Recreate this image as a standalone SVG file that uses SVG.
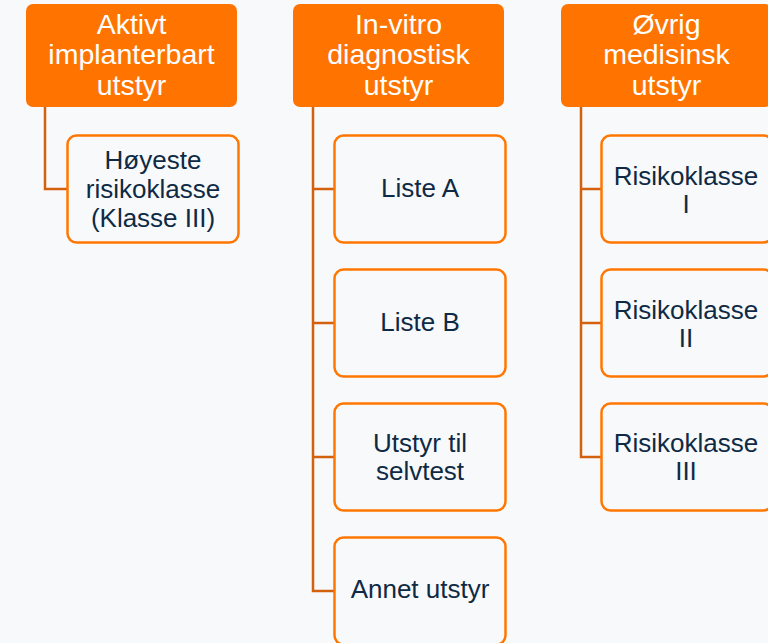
<svg xmlns="http://www.w3.org/2000/svg" width="768" height="643" viewBox="0 0 768 643">
<style>
.hdr{fill:#FF7400}
.ht{fill:#FFFFFF;font-family:"Liberation Sans",Arial,sans-serif;font-size:28.5px;text-anchor:middle}
.box{fill:#F8F9FB;stroke:#FF7700;stroke-width:2.5}
.bt{fill:#0E2A44;font-family:"Liberation Sans",Arial,sans-serif;font-size:26px;text-anchor:middle}
.con{fill:none;stroke:#D2600C;stroke-width:2.5}
</style>
<rect width="768" height="643" fill="#F8F9FB"/>
<g id="connectors">
<path class="con" d="M45 107V189H67"/>
<path class="con" d="M313 107V591H334M313 189H334M313 323H334M313 457H334"/>
<path class="con" d="M581 107V457H601M581 189H601M581 323H601"/>
</g>
<g id="h1"><rect class="hdr" x="26" y="4" width="211" height="103" rx="7"/>
<text class="ht" x="131.5" y="34">Aktivt</text><text class="ht" x="131.5" y="64">implanterbart</text><text class="ht" x="131.5" y="94.5">utstyr</text></g>
<g id="h2"><rect class="hdr" x="293" y="4" width="211" height="103" rx="7"/>
<text class="ht" x="398.5" y="34">In-vitro</text><text class="ht" x="398.5" y="64">diagnostisk</text><text class="ht" x="398.5" y="94.5">utstyr</text></g>
<g id="h3"><rect class="hdr" x="561" y="4" width="211" height="103" rx="7"/>
<text class="ht" x="666.5" y="34">Øvrig</text><text class="ht" x="666.5" y="64">medisinsk</text><text class="ht" x="666.5" y="94.5">utstyr</text></g>
<g id="c1"><rect class="box" x="67.5" y="135.5" width="171" height="107" rx="9"/>
<text class="bt" x="153" y="169">Høyeste</text><text class="bt" x="153" y="198">risikoklasse</text><text class="bt" x="153" y="227">(Klasse III)</text></g>
<g id="c2a"><rect class="box" x="334.5" y="135.5" width="171" height="107" rx="9"/>
<text class="bt" x="420" y="197">Liste A</text></g>
<g id="c2b"><rect class="box" x="334.5" y="269.5" width="171" height="107" rx="9"/>
<text class="bt" x="420" y="331">Liste B</text></g>
<g id="c2c"><rect class="box" x="334.5" y="403.5" width="171" height="107" rx="9"/>
<text class="bt" x="420" y="451.5">Utstyr til</text><text class="bt" x="420" y="480">selvtest</text></g>
<g id="c2d"><rect class="box" x="334.5" y="537.5" width="171" height="107" rx="9"/>
<text class="bt" x="420" y="598">Annet utstyr</text></g>
<g id="c3a"><rect class="box" x="601.5" y="135.5" width="171" height="107" rx="9"/>
<text class="bt" x="686" y="184.5">Risikoklasse</text><text class="bt" x="686" y="212.5">I</text></g>
<g id="c3b"><rect class="box" x="601.5" y="269.5" width="171" height="107" rx="9"/>
<text class="bt" x="686" y="318.5">Risikoklasse</text><text class="bt" x="686" y="346.5">II</text></g>
<g id="c3c"><rect class="box" x="601.5" y="403.5" width="171" height="107" rx="9"/>
<text class="bt" x="686" y="451.5">Risikoklasse</text><text class="bt" x="686" y="479.5">III</text></g>
</svg>
